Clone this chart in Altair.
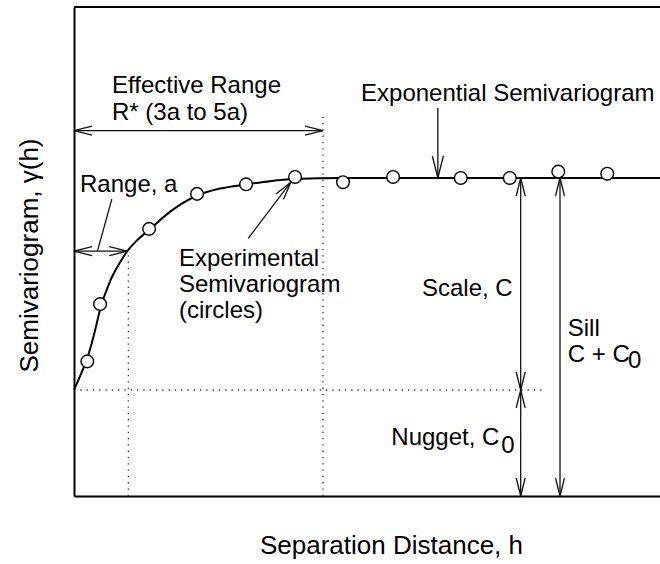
import math

import altair as alt
import pandas as pd

# Experimental semivariogram (lag distance h, semivariance gamma)
exp_h = [0.25, 0.49, 1.41, 2.31, 3.23, 4.15, 5.05, 5.99, 7.26, 8.18, 9.09, 10.01]
exp_gamma = [1.27, 1.81, 2.52, 2.85, 2.94, 3.01, 2.96, 3.01, 3.00, 3.00, 3.06, 3.04]

# Fitted exponential semivariogram
model_h = [0.0, 0.13, 0.25, 0.375, 0.49, 0.68, 0.86, 1.0, 1.2, 1.41, 1.8, 2.29,
           2.74, 3.25, 3.68, 4.13, 5.05, 11.0]
model_gamma = [1.0, 1.15, 1.30, 1.52, 1.76, 2.03, 2.20, 2.31, 2.42, 2.51, 2.68, 2.83,
               2.90, 2.94, 2.97, 2.99, 3.0, 3.0]

# Model parameters (same units as the axes)
nugget = 1.0        # C0
sill = 3.0          # C + C0
range_a = 1.0       # a
eff_range = 4.674   # R*

# Axis extents
X_MAX = 11.0
Y_MAX = 4.613
W, H = 586, 489

# Annotation arrows: x1, y1, x2, y2, which ends carry a head, head length (px)
arrow_x1 = [0.0, 0.0, 0.71, 6.83, 3.27, 8.385, 8.385, 9.123]
arrow_y1 = [3.446, 2.31, 2.80, 3.66, 2.43, sill, nugget, sill]
arrow_x2 = [eff_range, range_a, 0.44, 6.83, 4.07, 8.385, 8.385, 9.123]
arrow_y2 = [3.446, 2.31, 2.31, sill, 2.96, nugget, 0.0, 0.0]
arrow_heads = ["both", "both", "none", "end", "end", "both", "both", "both"]
arrow_head_len = [18, 18, 18, 22, 18, 18, 18, 18]

# Dotted guide lines: x1, y1, x2, y2
guide_x1 = [1.02, eff_range, 0.0]
guide_y1 = [0.0, 0.0, nugget]
guide_x2 = [1.02, eff_range, 8.84]
guide_y2 = [2.31, 3.59, nugget]

# Labels, left aligned: text, x, y (baseline)
left_text = ["Effective Range", "R* (3a to 5a)", "Exponential Semivariogram", "Range, a",
             "Experimental", "Semivariogram", "(circles)", "Sill", "C + C", "0", "0"]
left_x = [0.713, 0.713, 5.388, 0.113, 1.971, 1.971, 1.971, 9.268, 9.268, 10.40, 8.02]
left_y = [3.80, 3.547, 3.726, 2.868, 2.170, 1.925, 1.679, 1.509, 1.267, 1.203, 0.405]

# Labels, right aligned
right_text = ["Scale, C", "Nugget, C"]
right_x = [8.235, 7.985]
right_y = [1.887, 0.481]

FONT = "Liberation Sans"
FS = 24

kx = W / X_MAX
ky = H / Y_MAX

curve_df = pd.DataFrame({"x": model_h, "y": model_gamma})
points_df = pd.DataFrame({"x": exp_h, "y": exp_gamma})
arrows_df = pd.DataFrame({"x": arrow_x1, "y": arrow_y1, "x2": arrow_x2, "y2": arrow_y2})
guides_df = pd.DataFrame({"x": guide_x1, "y": guide_y1, "x2": guide_x2, "y2": guide_y2})
frame_df = pd.DataFrame({"x": [0.0], "y": [Y_MAX], "x2": [X_MAX], "y2": [Y_MAX]})
left_df = pd.DataFrame({"x": left_x, "y": left_y, "t": left_text})
right_df = pd.DataFrame({"x": right_x, "y": right_y, "t": right_text})


def head_angle(xa, ya, xb, yb):
    """Direction (degrees clockwise from up) of a head sitting at b, pointing away from a."""
    dx = (xb - xa) * kx
    dy_up = (yb - ya) * ky
    return math.degrees(math.atan2(dx, dy_up)) % 360


heads = []
for x1, y1, x2, y2, kind, ln in zip(arrow_x1, arrow_y1, arrow_x2, arrow_y2,
                                    arrow_heads, arrow_head_len):
    if kind in ("end", "both"):
        heads.append({"x": x2, "y": y2, "angle": head_angle(x1, y1, x2, y2), "size": (2 * ln) ** 2})
    if kind in ("start", "both"):
        heads.append({"x": x1, "y": y1, "angle": head_angle(x2, y2, x1, y1), "size": (2 * ln) ** 2})
heads_df = pd.DataFrame(heads)

X_SCALE = alt.Scale(domain=[0, X_MAX], nice=False, zero=False)
Y_SCALE = alt.Scale(domain=[0, Y_MAX], nice=False, zero=False)

x_axis = alt.Axis(
    title="Separation Distance, h", labels=False, ticks=False, grid=False,
    domainColor="black", domainWidth=2, titleFont=FONT, titleFontSize=26,
    titleFontWeight="normal", titleColor="black", titleAlign="center",
    titleBaseline="alphabetic", titleX=317, titleY=57,
)
y_axis = alt.Axis(
    title="Semivariogram, γ(h)", labels=False, ticks=False, grid=False,
    domainColor="black", domainWidth=2, titleFont=FONT, titleFontSize=26,
    titleFontWeight="normal", titleColor="black", titleAlign="center",
    titleBaseline="alphabetic", titleAngle=270, titleX=-37, titleY=248,
)


def ex():
    return alt.X("x:Q", scale=X_SCALE, axis=x_axis)


def ey():
    return alt.Y("y:Q", scale=Y_SCALE, axis=y_axis)


frame = alt.Chart(frame_df).mark_rule(color="black", strokeWidth=2).encode(
    x=ex(), y=ey(), x2="x2:Q", y2="y2:Q")

guides = alt.Chart(guides_df).mark_rule(
    color="#333", strokeWidth=1.3, strokeDash=[1.3, 5]).encode(
    x=ex(), y=ey(), x2="x2:Q", y2="y2:Q")

curve = alt.Chart(curve_df).mark_line(
    color="black", strokeWidth=2, interpolate="monotone").encode(x=ex(), y=ey())

shafts = alt.Chart(arrows_df).mark_rule(color="#111", strokeWidth=1.3).encode(
    x=ex(), y=ey(), x2="x2:Q", y2="y2:Q")

arrowheads = alt.Chart(heads_df).mark_point(
    shape="M -0.25 1 L 0 0 L 0.25 1", filled=False, stroke="#111",
    strokeWidth=1.3, opacity=1).encode(
    x=ex(), y=ey(),
    angle=alt.Angle("angle:Q", scale=None),
    size=alt.Size("size:Q", scale=None))

circles = alt.Chart(points_df).mark_point(
    shape="circle", filled=True, fill="white", stroke="black", strokeWidth=1.4,
    size=160, opacity=1).encode(x=ex(), y=ey())

labels_left = alt.Chart(left_df).mark_text(
    align="left", baseline="alphabetic", font=FONT, fontSize=FS, color="black").encode(
    x=ex(), y=ey(), text="t:N")

labels_right = alt.Chart(right_df).mark_text(
    align="right", baseline="alphabetic", font=FONT, fontSize=FS, color="black").encode(
    x=ex(), y=ey(), text="t:N")

chart = alt.layer(
    frame, guides, curve, shafts, arrowheads, circles, labels_left, labels_right
).properties(
    width=W, height=H,
    autosize=alt.AutoSizeParams(type="none"),
    padding={"left": 74, "top": 7, "right": 0, "bottom": 68},
    background="white",
).configure_view(stroke=None)

chart.save("out.html", embed_options={"renderer": "svg", "actions": False})
